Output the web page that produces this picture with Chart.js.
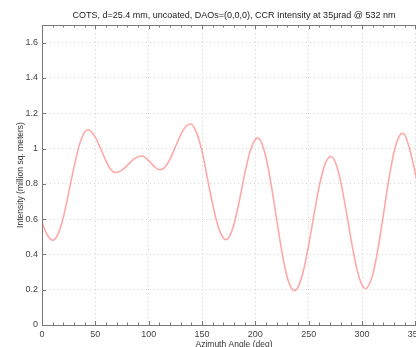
<!DOCTYPE html>
<html>
<head>
<meta charset="utf-8">
<script src="https://cdn.jsdelivr.net/npm/chart.js@4/dist/chart.umd.min.js"></script>
<style>
html,body{margin:0;padding:0;background:#fff;overflow:hidden;}
#wrap{width:416px;height:347px;overflow:hidden;position:relative;}
canvas{display:block;}
</style>
</head>
<body>
<div id="wrap"><canvas id="c" width="440" height="360"></canvas></div>
<script>
const chartTitle = 'COTS, d=25.4 mm, uncoated, DAOs=(0,0,0), CCR Intensity at 35\u03bcrad @ 532 nm';
const xTitle = 'Azimuth Angle (deg)';
const yTitle = 'Intensity (million sq. meters)';
const azimuthDeg = [0,5,10,15,20,25,30,35,40,43,45,50,55,60,65,69,75,80,85,90,93,95,100,105,110,115,120,125,130,135,139,145,150,155,160,165,170,172.5,175,180,185,190,195,200,202,205,210,215,220,225,230,235,236.5,240,245,250,255,260,265,270.6,275,280,285,290,295,300,303.4,305,310,315,320,325,330,335,337.8,340,345,350,355,360];
const intensity = [0.58,0.51,0.48,0.515,0.611,0.749,0.895,1.020,1.093,1.106,1.102,1.065,1.000,0.929,0.878,0.864,0.878,0.905,0.935,0.954,0.958,0.956,0.932,0.899,0.880,0.892,0.940,1.009,1.078,1.126,1.139,1.089,0.985,0.834,0.684,0.561,0.493,0.484,0.494,0.571,0.703,0.855,0.982,1.053,1.059,1.043,0.949,0.790,0.598,0.411,0.268,0.199,0.195,0.215,0.306,0.453,0.626,0.788,0.906,0.955,0.922,0.814,0.652,0.476,0.322,0.226,0.207,0.212,0.284,0.432,0.623,0.819,0.979,1.072,1.086,1.079,0.99,0.86,0.72,0.58];
const xMajorTicks = [0,50,100,150,200,250,300,350];
const xMinorStep = 10;
const yMajorTicks = [0,0.2,0.4,0.6,0.8,1,1.2,1.4,1.6];
const xRange = [0,360];
const yRange = [0,1.7];

const points = azimuthDeg.map((a,i)=>({x:a,y:intensity[i]}));

const boxPlugin = {
  id:'box',
  afterDraw(chart){
    const {ctx, chartArea:a, scales:{x,y}} = chart;
    ctx.save();
    ctx.strokeStyle = '#777';
    ctx.lineWidth = 1;
    ctx.beginPath();
    ctx.rect(Math.round(a.left)+0.5, Math.round(a.top)+0.5, Math.round(a.right-a.left), Math.round(a.bottom-a.top));
    ctx.stroke();
    ctx.beginPath();
    for(let v=xRange[0]; v<=xRange[1]; v+=xMinorStep){
      const px = Math.round(x.getPixelForValue(v))+0.5;
      const len = xMajorTicks.includes(v) ? 4 : 2.5;
      ctx.moveTo(px, a.bottom); ctx.lineTo(px, a.bottom-len);
      ctx.moveTo(px, a.top); ctx.lineTo(px, a.top+len);
    }
    yMajorTicks.forEach(v=>{
      const py = Math.round(y.getPixelForValue(v))+0.5;
      ctx.moveTo(a.left, py); ctx.lineTo(a.left+4, py);
      ctx.moveTo(a.right, py); ctx.lineTo(a.right-4, py);
    });
    ctx.stroke();
    ctx.restore();
  }
};

const font = {family:'"Liberation Sans", Arial, sans-serif', size:9};

new Chart(document.getElementById('c'), {
  type:'line',
  data:{datasets:[{
    data:points,
    borderColor:'rgba(255,110,110,0.6)',
    borderWidth:1.6,
    pointRadius:0,
    cubicInterpolationMode:'monotone',
    fill:false
  }]},
  options:{
    responsive:false,
    animation:false,
    events:[],
    layout:{padding:{left:0,right:14,top:0,bottom:0}},
    plugins:{
      legend:{display:false},
      tooltip:{enabled:false},
      title:{display:true, text:chartTitle, fullSize:false, color:'#222',
        font:{family:font.family, size:9, weight:'normal'}, padding:{top:10.6,bottom:3.6}}
    },
    scales:{
      x:{type:'linear', min:xRange[0], max:xRange[1],
        afterBuildTicks(s){ s.ticks = xMajorTicks.map(v=>({value:v})); },
        afterFit(s){ s.height = 35; },
        grid:{color:'#d4d4d4', lineWidth:1, drawTicks:false},
        border:{display:false, dash:[1,3]},
        ticks:{padding:4, color:'#444', font:font, maxRotation:0, autoSkip:false,
          callback:(v)=>String(v)},
        title:{display:true, text:xTitle, color:'#333', font:{family:font.family,size:8.5}, padding:{top:0,bottom:10}}
      },
      y:{type:'linear', min:yRange[0], max:yRange[1],
        afterBuildTicks(s){ s.ticks = yMajorTicks.map(v=>({value:v})); },
        afterFit(s){ s.width = 42; },
        grid:{color:'#d4d4d4', lineWidth:1, drawTicks:false},
        border:{display:false, dash:[1,3]},
        ticks:{padding:4, color:'#444', font:font, autoSkip:false,
          callback:(v)=>String(Math.round(v*10)/10)},
        title:{display:true, text:yTitle, color:'#333', font:{family:font.family,size:8.5}, padding:{top:16,bottom:0}}
      }
    }
  },
  plugins:[boxPlugin]
});
</script>
</body>
</html>
